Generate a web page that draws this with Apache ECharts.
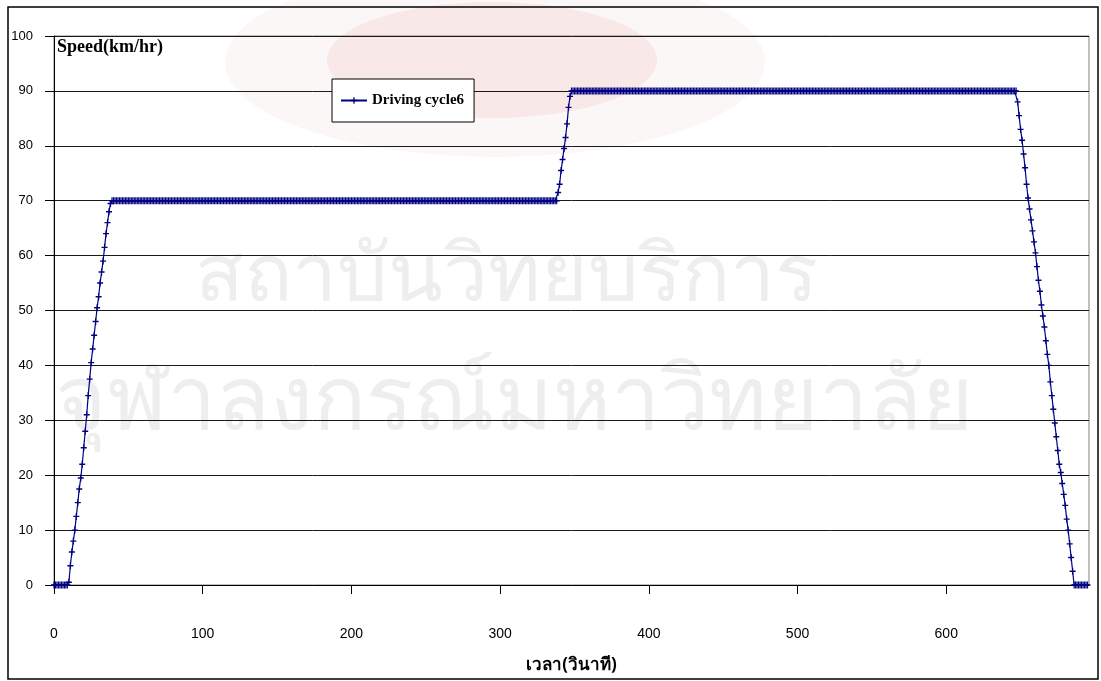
<!DOCTYPE html>
<html>
<head>
<meta charset="utf-8">
<title>Driving cycle6</title>
<script src="https://cdn.jsdelivr.net/npm/echarts@6/dist/echarts.min.js"></script>
<style>
  html, body { margin: 0; padding: 0; background: #ffffff; }
  #chart { width: 1101px; height: 681px; }
</style>
</head>
<body>
<div id="chart"></div>
<script>
// Driving cycle 6: vehicle speed (km/hr), one sample per second from t = 0 s.
const SAMPLE_STEP_S = 1;

const speedKmh = [
  // idle
  0,0,0,0,0,0,0,0,0,0,
  // accelerate to 70 (t = 10 .. 38)
  0.5,3.5,6,8,10,12.5,15,17.5,19.5,22,25,28,31,34.5,37.5,40.5,43,45.5,48,50.5,
  52.5,55,57,59,61.5,64,66,68,69.5,
  // cruise at 70 (t = 39 .. 338)
  70,70,70,70,70,70,70,70,70,70,70,70,70,70,70,70,70,70,70,70,
  70,70,70,70,70,70,70,70,70,70,70,70,70,70,70,70,70,70,70,70,
  70,70,70,70,70,70,70,70,70,70,70,70,70,70,70,70,70,70,70,70,
  70,70,70,70,70,70,70,70,70,70,70,70,70,70,70,70,70,70,70,70,
  70,70,70,70,70,70,70,70,70,70,70,70,70,70,70,70,70,70,70,70,
  70,70,70,70,70,70,70,70,70,70,70,70,70,70,70,70,70,70,70,70,
  70,70,70,70,70,70,70,70,70,70,70,70,70,70,70,70,70,70,70,70,
  70,70,70,70,70,70,70,70,70,70,70,70,70,70,70,70,70,70,70,70,
  70,70,70,70,70,70,70,70,70,70,70,70,70,70,70,70,70,70,70,70,
  70,70,70,70,70,70,70,70,70,70,70,70,70,70,70,70,70,70,70,70,
  70,70,70,70,70,70,70,70,70,70,70,70,70,70,70,70,70,70,70,70,
  70,70,70,70,70,70,70,70,70,70,70,70,70,70,70,70,70,70,70,70,
  70,70,70,70,70,70,70,70,70,70,70,70,70,70,70,70,70,70,70,70,
  70,70,70,70,70,70,70,70,70,70,70,70,70,70,70,70,70,70,70,70,
  70,70,70,70,70,70,70,70,70,70,70,70,70,70,70,70,70,70,70,70,
  // accelerate to 90 (t = 339 .. 347)
  71.5,73,75.5,77.5,79.5,81.5,84,87,89,
  // cruise at 90 (t = 348 .. 647)
  90,90,90,90,90,90,90,90,90,90,90,90,90,90,90,90,90,90,90,90,
  90,90,90,90,90,90,90,90,90,90,90,90,90,90,90,90,90,90,90,90,
  90,90,90,90,90,90,90,90,90,90,90,90,90,90,90,90,90,90,90,90,
  90,90,90,90,90,90,90,90,90,90,90,90,90,90,90,90,90,90,90,90,
  90,90,90,90,90,90,90,90,90,90,90,90,90,90,90,90,90,90,90,90,
  90,90,90,90,90,90,90,90,90,90,90,90,90,90,90,90,90,90,90,90,
  90,90,90,90,90,90,90,90,90,90,90,90,90,90,90,90,90,90,90,90,
  90,90,90,90,90,90,90,90,90,90,90,90,90,90,90,90,90,90,90,90,
  90,90,90,90,90,90,90,90,90,90,90,90,90,90,90,90,90,90,90,90,
  90,90,90,90,90,90,90,90,90,90,90,90,90,90,90,90,90,90,90,90,
  90,90,90,90,90,90,90,90,90,90,90,90,90,90,90,90,90,90,90,90,
  90,90,90,90,90,90,90,90,90,90,90,90,90,90,90,90,90,90,90,90,
  90,90,90,90,90,90,90,90,90,90,90,90,90,90,90,90,90,90,90,90,
  90,90,90,90,90,90,90,90,90,90,90,90,90,90,90,90,90,90,90,90,
  90,90,90,90,90,90,90,90,90,90,90,90,90,90,90,90,90,90,90,90,
  // decelerate to stop (t = 648 .. 685)
  88,85.5,83,81,78.5,76,73,70.5,68.5,66.5,64.5,62.5,60.5,58,55.5,53.5,51,49,47,44.5,
  42,40,37,34.5,32,29.5,27,24.5,22,20.5,18.5,16.5,14.5,12,10,7.5,5,2.5,
  // idle
  0,0,0,0,0,0,0,0,0,0
];

const xTicks = [0, 100, 200, 300, 400, 500, 600];
const xMax = 696;
const yTicks = [0, 10, 20, 30, 40, 50, 60, 70, 80, 90, 100];

const seriesName = 'Driving cycle6';
const yTitle = 'Speed(km/hr)';
const xTitle = 'เวลา(วินาที)';
const watermarkLines = ['สถาบันวิทยบริการ', 'จุฬาลงกรณ์มหาวิทยาลัย'];

const points = speedKmh.map((v, i) => [i * SAMPLE_STEP_S, v]);

const LINE_BLUE = '#000080';
const PLUS = 'path://M2,0H3V2H5V3H3V5H2V3H0V2H2Z';

const chart = echarts.init(document.getElementById('chart'), null, { renderer: 'canvas' });

chart.setOption({
  backgroundColor: '#ffffff',
  animation: false,
  graphic: [
    // faint emblem and institute name printed behind the plot
    { type: 'ellipse', z: -10, silent: true,
      shape: { cx: 495, cy: 62, rx: 270, ry: 95 },
      style: { fill: '#fcf7f7' } },
    { type: 'ellipse', z: -9, silent: true,
      shape: { cx: 492, cy: 60, rx: 165, ry: 58 },
      style: { fill: '#f9e8e8' } },
    { type: 'text', z: -8, silent: true, left: 195, top: 238,
      style: { text: watermarkLines[0], font: '80px "Noto Sans", "DejaVu Sans", sans-serif', fill: '#eeeeee' } },
    { type: 'text', z: -8, silent: true, left: 55, top: 360,
      style: { text: watermarkLines[1], font: '88px "Noto Sans", "DejaVu Sans", sans-serif', fill: '#eeeeee' } },
    // outer chart frame
    { type: 'rect', z: 100, silent: true,
      shape: { x: 8, y: 7, width: 1090, height: 672 },
      style: { fill: 'none', stroke: '#000000', lineWidth: 1.5 } }
  ],
  grid: {
    left: 54, right: 12, top: 36, bottom: 96,
    show: true, borderColor: '#808080', borderWidth: 1, backgroundColor: 'transparent'
  },
  legend: {
    left: 332, top: 79,
    padding: [13, 10, 13, 8],
    backgroundColor: '#ffffff',
    borderColor: '#000000', borderWidth: 1,
    itemWidth: 26, itemHeight: 8,
    data: [seriesName],
    textStyle: { fontFamily: '"Liberation Serif", serif', fontWeight: 'bold', fontSize: 15, color: '#000000', lineHeight: 17 }
  },
  xAxis: {
    type: 'value',
    min: 0, max: xMax, interval: 100,
    name: xTitle,
    nameLocation: 'middle', nameGap: 72,
    nameTextStyle: { fontFamily: '"Noto Sans", "DejaVu Sans", sans-serif', fontWeight: 'bold', fontSize: 17, color: '#000000' },
    axisLine: { show: true, onZero: false, lineStyle: { color: '#000000', width: 1 } },
    axisTick: { show: true, inside: false, length: 9, customValues: xTicks, lineStyle: { color: '#000000' } },
    axisLabel: {
      margin: 42, customValues: xTicks,
      fontFamily: '"Liberation Sans", sans-serif', fontSize: 14, color: '#000000',
      formatter: v => (xTicks.indexOf(v) >= 0 ? String(v) : '')
    },
    splitLine: { show: false }
  },
  yAxis: {
    type: 'value',
    min: 0, max: 100, interval: 10,
    name: yTitle,
    nameLocation: 'end', nameGap: -2,
    nameTextStyle: {
      fontFamily: '"Liberation Serif", serif', fontWeight: 'bold', fontSize: 18, color: '#000000',
      align: 'left', verticalAlign: 'top', padding: [0, 0, 0, 3]
    },
    axisLine: { show: true, lineStyle: { color: '#000000', width: 1 } },
    axisTick: { show: true, inside: false, length: 9, lineStyle: { color: '#000000' } },
    axisLabel: {
      margin: 21,
      fontFamily: '"Liberation Sans", sans-serif', fontSize: 13, color: '#000000',
      formatter: v => (yTicks.indexOf(v) >= 0 ? String(v) : '')
    },
    splitLine: { show: true, lineStyle: { color: '#1a1a1a', width: 1 } }
  },
  series: [{
    name: seriesName,
    type: 'line',
    data: points,
    showAllSymbol: true,
    symbol: PLUS,
    symbolSize: [6, 7],
    lineStyle: { color: LINE_BLUE, width: 1.2 },
    itemStyle: { color: LINE_BLUE },
    z: 5
  }]
});
</script>
</body>
</html>
